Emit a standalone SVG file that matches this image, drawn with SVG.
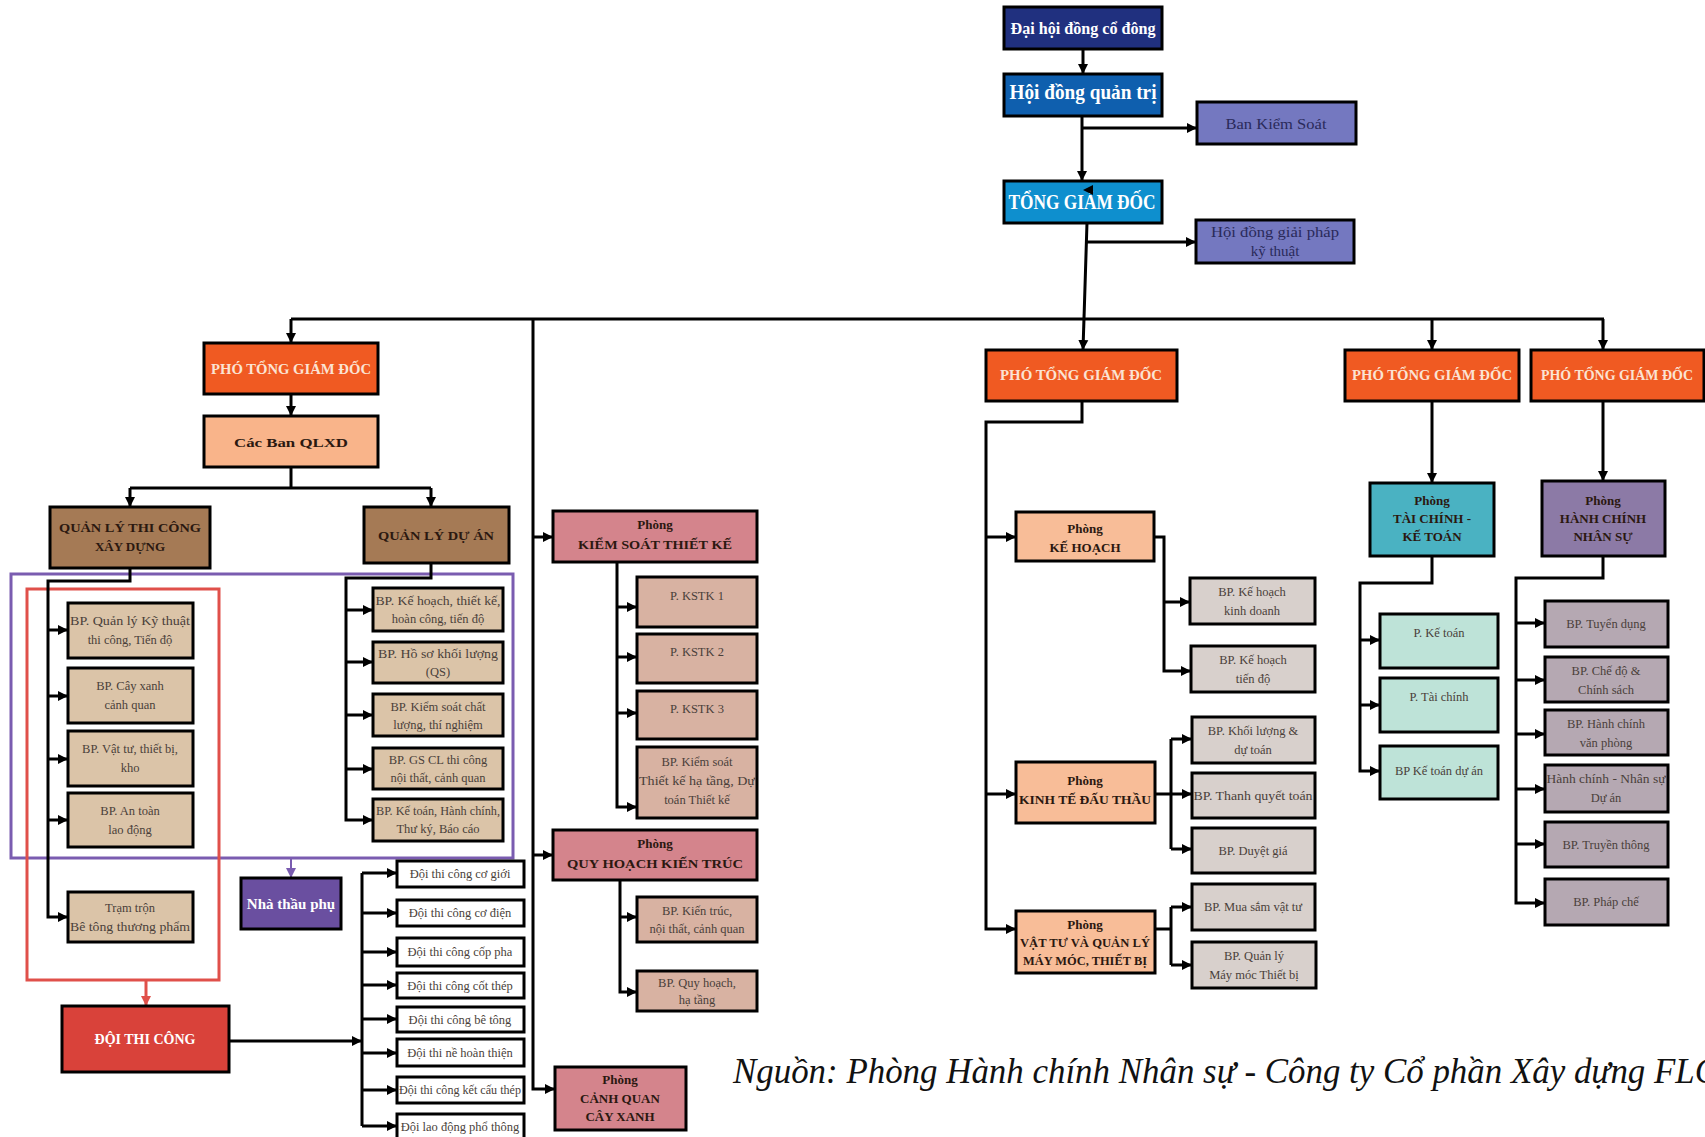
<svg xmlns="http://www.w3.org/2000/svg" width="1705" height="1137" viewBox="0 0 1705 1137">
<defs>
<marker id="ar" markerUnits="userSpaceOnUse" markerWidth="12" markerHeight="12" refX="10" refY="6" orient="auto"><path d="M0,1 L10,6 L0,11 Z" fill="#000"/></marker>
<marker id="arr" markerUnits="userSpaceOnUse" markerWidth="12" markerHeight="12" refX="10" refY="6" orient="auto"><path d="M0,1 L10,6 L0,11 Z" fill="#e0504a"/></marker>
<marker id="arp" markerUnits="userSpaceOnUse" markerWidth="12" markerHeight="12" refX="10" refY="6" orient="auto"><path d="M0,1 L10,6 L0,11 Z" fill="#7a5cb0"/></marker>
<style>
rect{stroke:#000;stroke-width:3}
text{font-family:"Liberation Serif","Times New Roman",serif;text-anchor:middle}
.c path{fill:none;stroke:#000;stroke-width:3}
.w{fill:#fff;font-weight:bold}
.h{fill:#2b1810;font-weight:bold;font-size:13px}
.s{fill:#4a3f3a;font-size:12.5px}
.ptgd{fill:#f05a22}.ptgd text{fill:#fbe3d3;font-weight:bold;font-size:15px}
.tan{fill:#dbc4a8}.pk{fill:#d4848c}.pt{fill:#d8b2a2}.pe{fill:#f8bd98}.gr{fill:#d8d0cc}.mint{fill:#bee3d8}.mv{fill:#b5a8b2}.wh{fill:#fff}.br{fill:#a57a55}
</style>
</defs>
<rect x="0" y="0" width="1705" height="1137" fill="#fff" style="stroke:none"/>

<g id="frames">
<rect x="11" y="574" width="502" height="284" fill="none" style="stroke:#7a5cb0;stroke-width:3"/>
<rect x="27" y="589" width="192" height="391" fill="none" style="stroke:#e0504a;stroke-width:3"/>
</g>

<g class="c" id="connectors">
<path d="M1083,49 V74" marker-end="url(#ar)"/>
<path d="M1082,116 V181" marker-end="url(#ar)"/>
<path d="M1082,128 H1197" marker-end="url(#ar)"/>
<path d="M1087,223 L1083,350" marker-end="url(#ar)"/>
<path d="M1086,242 H1196" marker-end="url(#ar)"/>
<path d="M291,319 H1604"/>
<path d="M291,319 V343" marker-end="url(#ar)"/>
<path d="M1432,319 V350" marker-end="url(#ar)"/>
<path d="M1603,319 V350" marker-end="url(#ar)"/>
<path d="M533,319 V1089 H555" marker-end="url(#ar)"/>
<path d="M533,537 H553" marker-end="url(#ar)"/>
<path d="M533,855 H553" marker-end="url(#ar)"/>
<path d="M291,394 V416" marker-end="url(#ar)"/>
<path d="M291,467 V488"/>
<path d="M130,488 H431"/>
<path d="M130,488 V507" marker-end="url(#ar)"/>
<path d="M431,488 V507" marker-end="url(#ar)"/>
<path d="M130,568 V581 H48 V917 H68" marker-end="url(#ar)"/>
<path d="M48,630 H68" marker-end="url(#ar)"/>
<path d="M48,696 H68" marker-end="url(#ar)"/>
<path d="M48,759 H68" marker-end="url(#ar)"/>
<path d="M48,820 H68" marker-end="url(#ar)"/>
<path d="M431,563 V578 H346 V820 H373" marker-end="url(#ar)"/>
<path d="M346,610 H373" marker-end="url(#ar)"/>
<path d="M346,662 H373" marker-end="url(#ar)"/>
<path d="M346,715 H373" marker-end="url(#ar)"/>
<path d="M346,769 H373" marker-end="url(#ar)"/>
<path d="M146,980 V1006" style="stroke:#e0504a" marker-end="url(#arr)"/>
<path d="M291,858 V878" style="stroke:#7a5cb0;stroke-width:2" marker-end="url(#arp)"/>
<path d="M229,1041 H362" marker-end="url(#ar)"/>
<path d="M362,873 V1126"/>
<path d="M362,873 H397" marker-end="url(#ar)"/>
<path d="M362,913 H397" marker-end="url(#ar)"/>
<path d="M362,952 H397" marker-end="url(#ar)"/>
<path d="M362,985 H397" marker-end="url(#ar)"/>
<path d="M362,1019 H397" marker-end="url(#ar)"/>
<path d="M362,1053 H397" marker-end="url(#ar)"/>
<path d="M362,1090 H397" marker-end="url(#ar)"/>
<path d="M362,1126 H397" marker-end="url(#ar)"/>
<path d="M617,562 V807 H637" marker-end="url(#ar)"/>
<path d="M617,607 H637" marker-end="url(#ar)"/>
<path d="M617,657 H637" marker-end="url(#ar)"/>
<path d="M617,713 H637" marker-end="url(#ar)"/>
<path d="M620,880 V992 H637" marker-end="url(#ar)"/>
<path d="M620,917 H637" marker-end="url(#ar)"/>
<path d="M1082,401 V422 H986 V929 H1016" marker-end="url(#ar)"/>
<path d="M986,537 H1016" marker-end="url(#ar)"/>
<path d="M986,794 H1016" marker-end="url(#ar)"/>
<path d="M1154,537 H1164 V671 H1191" marker-end="url(#ar)"/>
<path d="M1164,602 H1190" marker-end="url(#ar)"/>
<path d="M1155,794 H1192" marker-end="url(#ar)"/>
<path d="M1171,739 V849"/>
<path d="M1171,739 H1192" marker-end="url(#ar)"/>
<path d="M1171,849 H1192" marker-end="url(#ar)"/>
<path d="M1155,929 H1171"/>
<path d="M1171,907 V965"/>
<path d="M1171,907 H1192" marker-end="url(#ar)"/>
<path d="M1171,965 H1192" marker-end="url(#ar)"/>
<path d="M1432,401 V483" marker-end="url(#ar)"/>
<path d="M1603,401 V481" marker-end="url(#ar)"/>
<path d="M1432,556 V583 H1360 V771 H1380" marker-end="url(#ar)"/>
<path d="M1360,640 H1380" marker-end="url(#ar)"/>
<path d="M1360,705 H1380" marker-end="url(#ar)"/>
<path d="M1603,556 V578 H1516 V903 H1545" marker-end="url(#ar)"/>
<path d="M1516,623 H1545" marker-end="url(#ar)"/>
<path d="M1516,680 H1545" marker-end="url(#ar)"/>
<path d="M1516,734 H1545" marker-end="url(#ar)"/>
<path d="M1516,789 H1545" marker-end="url(#ar)"/>
<path d="M1516,844 H1545" marker-end="url(#ar)"/>
</g>

<g id="n-dhdcd"><rect x="1004" y="7" width="158" height="42" fill="#20307f"/><text x="1083" y="34" class="w" font-size="17" textLength="145" lengthAdjust="spacingAndGlyphs">Đại hội đồng cổ đông</text></g>
<g id="n-hdqt"><rect x="1004" y="74" width="158" height="42" fill="#0f5fae"/><text x="1083" y="99" class="w" font-size="20" textLength="147" lengthAdjust="spacingAndGlyphs">Hội đồng quản trị</text></g>
<g id="n-tgd"><rect x="1004" y="181" width="158" height="42" fill="#0e8fce"/><text x="1082" y="209" class="w" font-size="20" textLength="147" lengthAdjust="spacingAndGlyphs">TỔNG GIÁM ĐỐC</text><path d="M1083,190 L1093,185 L1093,195 Z" fill="#000"/></g>
<g id="n-bks"><rect x="1197" y="102" width="159" height="42" fill="#7478c0"/><text x="1276" y="129" fill="#2a2a5a" font-size="15" textLength="101" lengthAdjust="spacingAndGlyphs">Ban Kiểm Soát</text></g>
<g id="n-hdgp"><rect x="1196" y="220" width="158" height="43" fill="#7478c0"/><text x="1275" y="237" fill="#2a2a5a" font-size="15" textLength="128" lengthAdjust="spacingAndGlyphs">Hội đồng giải pháp</text><text x="1275" y="256" fill="#2a2a5a" font-size="15">kỹ thuật</text></g>

<g id="n-ptgd1" class="ptgd"><rect x="204" y="343" width="174" height="51"/><text x="291" y="374" textLength="160" lengthAdjust="spacingAndGlyphs">PHÓ TỔNG GIÁM ĐỐC</text></g>
<g id="n-cacban"><rect x="204" y="416" width="174" height="51" fill="#f9b48a"/><text x="291" y="447" class="h" font-size="19" textLength="114" lengthAdjust="spacingAndGlyphs">Các Ban QLXD</text></g>
<g id="n-qltc"><rect x="50" y="507" width="160" height="61" class="br"/><text x="130" y="532" class="h" font-size="14" textLength="142" lengthAdjust="spacingAndGlyphs">QUẢN LÝ THI CÔNG</text><text x="130" y="551" class="h" font-size="14">XÂY DỰNG</text></g>
<g id="n-qlda"><rect x="364" y="507" width="145" height="56" class="br"/><text x="436" y="540" class="h" font-size="14" textLength="116" lengthAdjust="spacingAndGlyphs">QUẢN LÝ DỰ ÁN</text></g>

<g id="n-tc1"><rect x="68" y="603" width="125" height="55" class="tan"/><text x="130" y="625" class="s" textLength="120" lengthAdjust="spacingAndGlyphs">BP. Quản lý Kỹ thuật</text><text x="130" y="644" class="s">thi công, Tiến độ</text></g>
<g id="n-tc2"><rect x="68" y="668" width="125" height="55" class="tan"/><text x="130" y="690" class="s">BP. Cây xanh</text><text x="130" y="709" class="s">cảnh quan</text></g>
<g id="n-tc3"><rect x="68" y="731" width="125" height="55" class="tan"/><text x="130" y="753" class="s">BP. Vật tư, thiết bị,</text><text x="130" y="772" class="s">kho</text></g>
<g id="n-tc4"><rect x="68" y="793" width="125" height="54" class="tan"/><text x="130" y="815" class="s">BP. An toàn</text><text x="130" y="834" class="s">lao động</text></g>
<g id="n-tc5"><rect x="68" y="892" width="125" height="50" class="tan"/><text x="130" y="912" class="s">Trạm trộn</text><text x="130" y="931" class="s" textLength="120" lengthAdjust="spacingAndGlyphs">Bê tông thương phẩm</text></g>

<g id="n-da1"><rect x="373" y="588" width="130" height="43" class="tan"/><text x="438" y="605" class="s" textLength="125" lengthAdjust="spacingAndGlyphs">BP. Kế hoạch, thiết kế,</text><text x="438" y="623" class="s">hoàn công, tiến độ</text></g>
<g id="n-da2"><rect x="373" y="642" width="130" height="41" class="tan"/><text x="438" y="658" class="s" textLength="120" lengthAdjust="spacingAndGlyphs">BP. Hồ sơ khối lượng</text><text x="438" y="676" class="s">(QS)</text></g>
<g id="n-da3"><rect x="373" y="694" width="130" height="42" class="tan"/><text x="438" y="711" class="s">BP. Kiểm soát chất</text><text x="438" y="729" class="s">lượng, thí nghiệm</text></g>
<g id="n-da4"><rect x="373" y="748" width="130" height="41" class="tan"/><text x="438" y="764" class="s">BP. GS CL thi công</text><text x="438" y="782" class="s">nội thất, cảnh quan</text></g>
<g id="n-da5"><rect x="373" y="799" width="130" height="42" class="tan"/><text x="438" y="815" class="s" textLength="124" lengthAdjust="spacingAndGlyphs">BP. Kế toán, Hành chính,</text><text x="438" y="833" class="s">Thư ký, Báo cáo</text></g>

<g id="n-ntp"><rect x="241" y="878" width="100" height="51" fill="#6a4fa0"/><text x="291" y="909" class="w" font-size="15">Nhà thầu phụ</text></g>
<g id="n-dtc"><rect x="62" y="1006" width="167" height="66" fill="#d9423a"/><text x="145" y="1044" class="w" font-size="14">ĐỘI THI CÔNG</text></g>

<g id="n-d1"><rect x="397" y="861" width="127" height="26" class="wh"/><text x="460" y="878" class="s" font-size="12">Đội thi công cơ giới</text></g>
<g id="n-d2"><rect x="397" y="900" width="127" height="26" class="wh"/><text x="460" y="917" class="s" font-size="12">Đội thi công cơ điện</text></g>
<g id="n-d3"><rect x="397" y="938" width="127" height="28" class="wh"/><text x="460" y="956" class="s" font-size="12">Đội thi công cốp pha</text></g>
<g id="n-d4"><rect x="397" y="973" width="127" height="25" class="wh"/><text x="460" y="990" class="s" font-size="12">Đội thi công cốt thép</text></g>
<g id="n-d5"><rect x="397" y="1007" width="127" height="25" class="wh"/><text x="460" y="1024" class="s" font-size="12">Đội thi công bê tông</text></g>
<g id="n-d6"><rect x="397" y="1039" width="127" height="27" class="wh"/><text x="460" y="1057" class="s" font-size="12">Đội thi nề hoàn thiện</text></g>
<g id="n-d7"><rect x="397" y="1077" width="127" height="26" class="wh"/><text x="460" y="1094" class="s" font-size="12" textLength="122" lengthAdjust="spacingAndGlyphs">Đội thi công kết cấu thép</text></g>
<g id="n-d8"><rect x="397" y="1114" width="127" height="28" class="wh"/><text x="460" y="1131" class="s" font-size="12">Đội lao động phổ thông</text></g>

<g id="n-kstk"><rect x="553" y="511" width="204" height="51" class="pk"/><text x="655" y="529" class="h" font-size="11">Phòng</text><text x="655" y="549" class="h" font-size="14" textLength="154" lengthAdjust="spacingAndGlyphs">KIỂM SOÁT THIẾT KẾ</text></g>
<g id="n-k1"><rect x="637" y="577" width="120" height="50" class="pt"/><text x="697" y="600" class="s" font-size="13">P. KSTK 1</text></g>
<g id="n-k2"><rect x="637" y="634" width="120" height="49" class="pt"/><text x="697" y="656" class="s" font-size="13">P. KSTK 2</text></g>
<g id="n-k3"><rect x="637" y="691" width="120" height="48" class="pt"/><text x="697" y="713" class="s" font-size="13">P. KSTK 3</text></g>
<g id="n-k4"><rect x="637" y="747" width="120" height="71" class="pt"/><text x="697" y="766" class="s">BP. Kiểm soát</text><text x="697" y="785" class="s" textLength="116" lengthAdjust="spacingAndGlyphs">Thiết kế hạ tầng, Dự</text><text x="697" y="804" class="s">toán Thiết kế</text></g>

<g id="n-qhkt"><rect x="553" y="830" width="204" height="50" class="pk"/><text x="655" y="848" class="h" font-size="11">Phòng</text><text x="655" y="868" class="h" font-size="14" textLength="176" lengthAdjust="spacingAndGlyphs">QUY HOẠCH KIẾN TRÚC</text></g>
<g id="n-q1"><rect x="637" y="897" width="120" height="45" class="pt"/><text x="697" y="915" class="s">BP. Kiến trúc,</text><text x="697" y="933" class="s">nội thất, cảnh quan</text></g>
<g id="n-q2"><rect x="637" y="971" width="120" height="40" class="pt"/><text x="697" y="987" class="s">BP. Quy hoạch,</text><text x="697" y="1004" class="s">hạ tầng</text></g>
<g id="n-cqcx"><rect x="555" y="1067" width="131" height="63" class="pk"/><text x="620" y="1084" class="h" font-size="11">Phòng</text><text x="620" y="1103" class="h" font-size="12">CẢNH QUAN</text><text x="620" y="1121" class="h" font-size="12">CÂY XANH</text></g>

<g id="n-ptgd2" class="ptgd"><rect x="986" y="350" width="191" height="51"/><text x="1081" y="380" textLength="162" lengthAdjust="spacingAndGlyphs">PHÓ TỔNG GIÁM ĐỐC</text></g>
<g id="n-kh"><rect x="1016" y="512" width="138" height="49" class="pe"/><text x="1085" y="533" class="h" font-size="12">Phòng</text><text x="1085" y="552" class="h">KẾ HOẠCH</text></g>
<g id="n-kh1"><rect x="1190" y="578" width="125" height="46" class="gr"/><text x="1252" y="596" class="s">BP. Kế hoạch</text><text x="1252" y="615" class="s">kinh doanh</text></g>
<g id="n-kh2"><rect x="1191" y="646" width="124" height="46" class="gr"/><text x="1253" y="664" class="s">BP. Kế hoạch</text><text x="1253" y="683" class="s">tiến độ</text></g>
<g id="n-ktdt"><rect x="1016" y="762" width="139" height="61" class="pe"/><text x="1085" y="785" class="h" font-size="12">Phòng</text><text x="1085" y="804" class="h" textLength="132" lengthAdjust="spacingAndGlyphs">KINH TẾ ĐẤU THẦU</text></g>
<g id="n-kt1"><rect x="1192" y="717" width="123" height="46" class="gr"/><text x="1253" y="735" class="s">BP. Khối lượng &amp;</text><text x="1253" y="754" class="s">dự toán</text></g>
<g id="n-kt2"><rect x="1192" y="773" width="123" height="45" class="gr"/><text x="1253" y="800" class="s" textLength="119" lengthAdjust="spacingAndGlyphs">BP. Thanh quyết toán</text></g>
<g id="n-kt3"><rect x="1192" y="828" width="123" height="45" class="gr"/><text x="1253" y="855" class="s">BP. Duyệt giá</text></g>
<g id="n-vt"><rect x="1016" y="911" width="139" height="62" class="pe"/><text x="1085" y="929" class="h" font-size="12">Phòng</text><text x="1085" y="947" class="h" font-size="12" textLength="130" lengthAdjust="spacingAndGlyphs">VẬT TƯ VÀ QUẢN LÝ</text><text x="1085" y="965" class="h" font-size="12" textLength="124" lengthAdjust="spacingAndGlyphs">MÁY MÓC, THIẾT BỊ</text></g>
<g id="n-vt1"><rect x="1192" y="884" width="123" height="46" class="gr"/><text x="1253" y="911" class="s">BP. Mua sắm vật tư</text></g>
<g id="n-vt2"><rect x="1192" y="942" width="124" height="46" class="gr"/><text x="1254" y="960" class="s">BP. Quản lý</text><text x="1254" y="979" class="s">Máy móc Thiết bị</text></g>

<g id="n-ptgd3" class="ptgd"><rect x="1345" y="350" width="174" height="51"/><text x="1432" y="380" textLength="160" lengthAdjust="spacingAndGlyphs">PHÓ TỔNG GIÁM ĐỐC</text></g>
<g id="n-ptgd4" class="ptgd"><rect x="1531" y="350" width="173" height="51"/><text x="1617" y="380" textLength="152" lengthAdjust="spacingAndGlyphs">PHÓ TỔNG GIÁM ĐỐC</text></g>
<g id="n-tckt"><rect x="1370" y="483" width="124" height="73" fill="#4ab2c2"/><text x="1432" y="505" class="h" font-size="11" fill="#12303a">Phòng</text><text x="1432" y="523" class="h" font-size="12">TÀI CHÍNH -</text><text x="1432" y="541" class="h" font-size="12">KẾ TOÁN</text></g>
<g id="n-tc-a"><rect x="1380" y="614" width="118" height="54" class="mint"/><text x="1439" y="637" class="s" font-size="13">P. Kế toán</text></g>
<g id="n-tc-b"><rect x="1380" y="678" width="118" height="54" class="mint"/><text x="1439" y="701" class="s" font-size="13">P. Tài chính</text></g>
<g id="n-tc-c"><rect x="1380" y="746" width="118" height="53" class="mint"/><text x="1439" y="775" class="s" font-size="13">BP Kế toán dự án</text></g>
<g id="n-hcns"><rect x="1542" y="481" width="123" height="75" fill="#8c7aa6"/><text x="1603" y="505" class="h" font-size="11">Phòng</text><text x="1603" y="523" class="h" font-size="12">HÀNH CHÍNH</text><text x="1603" y="541" class="h" font-size="12">NHÂN SỰ</text></g>
<g id="n-hc1"><rect x="1545" y="601" width="123" height="46" class="mv"/><text x="1606" y="628" class="s">BP. Tuyển dụng</text></g>
<g id="n-hc2"><rect x="1545" y="657" width="123" height="45" class="mv"/><text x="1606" y="675" class="s">BP. Chế độ &amp;</text><text x="1606" y="694" class="s">Chính sách</text></g>
<g id="n-hc3"><rect x="1545" y="710" width="123" height="45" class="mv"/><text x="1606" y="728" class="s">BP. Hành chính</text><text x="1606" y="747" class="s">văn phòng</text></g>
<g id="n-hc4"><rect x="1545" y="765" width="123" height="47" class="mv"/><text x="1606" y="783" class="s" textLength="119" lengthAdjust="spacingAndGlyphs">Hành chính - Nhân sự</text><text x="1606" y="802" class="s">Dự án</text></g>
<g id="n-hc5"><rect x="1545" y="822" width="123" height="45" class="mv"/><text x="1606" y="849" class="s">BP. Truyền thông</text></g>
<g id="n-hc6"><rect x="1545" y="879" width="123" height="46" class="mv"/><text x="1606" y="906" class="s">BP. Pháp chế</text></g>

<text x="733" y="1083" style="text-anchor:start;font-style:italic;font-size:36px" fill="#111" textLength="985" lengthAdjust="spacingAndGlyphs">Nguồn: Phòng Hành chính Nhân sự - Công ty Cổ phần Xây dựng FLC</text>
</svg>
